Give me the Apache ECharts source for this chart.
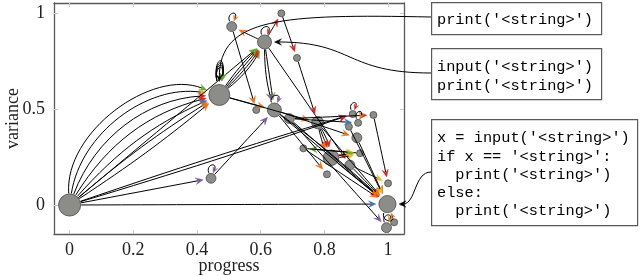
<!DOCTYPE html>
<html><head><meta charset="utf-8">
<script src="https://cdn.jsdelivr.net/npm/echarts@6/dist/echarts.min.js"></script>
<style>html,body{margin:0;padding:0;background:#fff}#c{width:640px;height:276px}</style>
</head><body><div id="c"></div>
<script>
// ---------------- data ----------------
const xTicks = [0, 0.2, 0.4, 0.6, 0.8, 1];
const yTicks = [0, 0.5, 1];
const xName = 'progress';
const yName = 'variance';

const nodeX = [0, 0.47, 0.612, 0.509, 0.665, 0.714, 0.643, 0.586, 0.69, 0.779, 0.889, 0.954, 0.877, 0.906, 0.902, 0.734, 0.821, 0.912, 0.88, 0.808, 1.0, 0.998, 0.995, 1.019, 0.444];
const nodeY = [0, 0.573, 0.849, 0.929, 0.998, 0.766, 0.495, 0.495, 0.45, 0.429, 0.474, 0.469, 0.408, 0.428, 0.35, 0.295, 0.246, 0.27, 0.208, 0.16, 0.113, 0.005, -0.118, -0.09, 0.139];
const nodeCount = [10, 9, 4, 2, 1, 1, 4, 1, 2, 3, 1, 1, 1, 1, 2, 1, 5, 1, 2, 1, 1, 6, 2, 1, 2];

const edgeFrom = [0,0,0,0,0,0,0, 0,0,0,0,0, 24, 1,1,1,1, 1,1, 2,2,4,2,2,2, 3,5, 9,9,9, 8,6,8, 17,15,16,16, 6,6,6,8,9,16,18,15, 8,11,18,14,12];
const edgeTo   = [1,1,1,1,1,1,1, 2,24,10,10,21, 6, 2,2,2,2, 6,9, 3,4,5,6,6,18, 7,9, 16,16,16, 13,14,11, 15,17,17,17, 19,21,21,21,21,21,21,21, 22,20,20,21,21];
const edgeKind = ['green','yellow','red','red','blue','orange','orange',
  'green','purple','red','red','blue','purple',
  'green','red','red','green','orange','orange',
  'orange','red','red','green','purple','red',
  'orange','red','red','red','orange','blue','orange','red',
  'green','yellow','green','yellow',
  'orange','red','orange','red','orange','red','orange','orange',
  'purple','red','yellow','red','yellow'];
const edgeBend = [58,45,33,22,12,4,-3,
  0,0,1,-1,0,0,
  -12,-6,0,6,0,0,
  0,0,0,0,-8,0,
  0,0,10,0,-10,0,0,0,
  0,0,6,-6,
  0,0,3,0,0,0,0,0,
  0,0,0,0,0];

const loopNode = [1,1,1,1, 24, 3, 2, 21, 22, 10, 13, 6];
const loopKind = ['green','green','green','green','purple','orange','red','brown','brown','red','brown','purple'];
const loopSide = ['above','above','above','above','above','above','above','below','above','above','above','above'];

const annTarget = [1, 2, 21];
const annCode = [
  [[['print','kw'],['(','p'],["'<string>'",'s'],[')','p']]],
  [[['input','kw'],['(','p'],["'<string>'",'s'],[')','p']],
   [['print','kw'],['(','p'],["'<string>'",'s'],[')','p']]],
  [[['x = ','p'],['input','kw'],['(','p'],["'<string>'",'s'],[')','p']],
   [['if','kw'],[' x == ','p'],["'<string>'",'s'],[':','p']],
   [['  ','p'],['print','kw'],['(','p'],["'<string>'",'s'],[')','p']],
   [['else','kw'],[':','p']],
   [['  ','p'],['print','kw'],['(','p'],["'<string>'",'s'],[')','p']]]
];

// ---------------- style / layout ----------------
const COLORS = {green:'#64a82e', yellow:'#e8b923', red:'#d8261f', blue:'#3b72b9', orange:'#e8741d', purple:'#7d569f', brown:'#c48a2e'};
const SERIF = 'Liberation Serif';
const MONO = 'Liberation Mono';
const loopLen = [15,18,21,24, 9,9,9,9,8,8,8,8];
const BOXES = [
  {x:431, y:2, w:170, h:32, line0:19.5, lh:19},
  {x:431, y:48, w:170, h:51, line0:67, lh:19},
  {x:431, y:119, w:206, h:106, line0:138.3, lh:18.2}
];
const ANN_PATH = [
  {start:[431,17], c1:[282,14], inDir:[0,-1], c2len:64},
  {start:[431,73], c1:[345,73], inDir:[1,0], c2len:80},
  {start:[431,172], c1:[414,172], inDir:[1,0], c2len:17}
];

function radius(c){ return 3.5*Math.sqrt(c); }
function norm(v){ const l=Math.hypot(v[0],v[1])||1; return [v[0]/l, v[1]/l]; }
function arrow(tip, u, color, len, w){
  len = len||7.5; w = w||3.3;
  const px=-u[1], py=u[0];
  const bx=tip[0]-u[0]*len, by=tip[1]-u[1]*len;
  const nx=tip[0]-u[0]*len*0.62, ny=tip[1]-u[1]*len*0.62;
  return {type:'polygon', shape:{points:[[tip[0],tip[1]],[bx+px*w,by+py*w],[nx,ny],[bx-px*w,by-py*w]]},
    style:{fill:color, stroke:color, lineWidth:0.4, lineJoin:'round'}};
}

function renderEdge(params, api){
  const i = api.value(4);
  const a = edgeFrom[i], b = edgeTo[i];
  const p0 = api.coord([api.value(0), api.value(1)]);
  const p1 = api.coord([api.value(2), api.value(3)]);
  const r0 = radius(nodeCount[a]), r1 = radius(nodeCount[b]);
  const L = Math.hypot(p1[0]-p0[0], p1[1]-p0[1]);
  const u = norm([p1[0]-p0[0], p1[1]-p0[1]]);
  const n = [u[1], -u[0]];
  const th = edgeBend[i]*Math.PI/180;
  const d = 0.3915*L;
  const ds = [u[0]*Math.cos(th)+n[0]*Math.sin(th), u[1]*Math.cos(th)+n[1]*Math.sin(th)];
  const de = [u[0]*Math.cos(th)-n[0]*Math.sin(th), u[1]*Math.cos(th)-n[1]*Math.sin(th)];
  const c1 = [p0[0]+ds[0]*d, p0[1]+ds[1]*d];
  const c2 = [p1[0]-de[0]*d, p1[1]-de[1]*d];
  const s = [p0[0]+ds[0]*(r0+0.5), p0[1]+ds[1]*(r0+0.5)];
  const tip = [p1[0]-de[0]*(r1+3), p1[1]-de[1]*(r1+3)];
  const e = [tip[0]-de[0]*5, tip[1]-de[1]*5];
  return {type:'group', children:[
    {type:'bezierCurve', shape:{x1:s[0],y1:s[1],x2:e[0],y2:e[1],cpx1:c1[0],cpy1:c1[1],cpx2:c2[0],cpy2:c2[1]},
      style:{stroke:'#000', lineWidth:1, fill:null}},
    arrow(tip, de, COLORS[edgeKind[i]])
  ]};
}

function renderLoop(params, api){
  const i = api.value(2);
  const nd = loopNode[i];
  const p = api.coord([api.value(0), api.value(1)]);
  const r = radius(nodeCount[nd]);
  const sg = loopSide[i]==='below' ? -1 : 1;
  const Lp = loopLen[i];
  const big = Lp > 12;
  const aO = (big?100:112)*Math.PI/180, aI = (big?80:68)*Math.PI/180;
  const dO = [Math.cos(aO), -sg*Math.sin(aO)], dI = [Math.cos(aI), -sg*Math.sin(aI)];
  const off = big ? 4 : 1;
  const s = [p[0]+dO[0]*(r+off), p[1]+dO[1]*(r+off)];
  const tip = [p[0]+dI[0]*(r+off), p[1]+dI[1]*(r+off)];
  const al = big ? 7 : 5.5;
  const e = [tip[0]+dI[0]*al*0.6, tip[1]+dI[1]*al*0.6];
  const c1 = [s[0]+dO[0]*Lp, s[1]+dO[1]*Lp];
  const c2 = [e[0]+dI[0]*Lp, e[1]+dI[1]*Lp];
  return {type:'group', children:[
    {type:'bezierCurve', shape:{x1:s[0],y1:s[1],x2:e[0],y2:e[1],cpx1:c1[0],cpy1:c1[1],cpx2:c2[0],cpy2:c2[1]},
      style:{stroke:'#000', lineWidth:1, fill:null}},
    arrow(tip, [-dI[0],-dI[1]], COLORS[loopKind[i]], al, al*0.44)
  ]};
}

function renderAnn(params, api){
  const j = api.value(2);
  const t = annTarget[j];
  const p = api.coord([api.value(0), api.value(1)]);
  const r = radius(nodeCount[t]);
  const P = ANN_PATH[j];
  const tip = [p[0]+P.inDir[0]*(r+3), p[1]+P.inDir[1]*(r+3)];
  const e = [tip[0]+P.inDir[0]*4, tip[1]+P.inDir[1]*4];
  const c2 = [tip[0]+P.inDir[0]*P.c2len, tip[1]+P.inDir[1]*P.c2len];
  return {type:'group', children:[
    {type:'bezierCurve', shape:{x1:P.start[0],y1:P.start[1],x2:e[0],y2:e[1],cpx1:P.c1[0],cpy1:P.c1[1],cpx2:c2[0],cpy2:c2[1]},
      style:{stroke:'#000', lineWidth:1, fill:null}},
    arrow(tip, [-P.inDir[0],-P.inDir[1]], '#000', 7, 3.2)
  ]};
}

// ---------------- graphics for code boxes ----------------
const rich = {
  kw:{color:'#d66c22', fontFamily:MONO, fontSize:15.3},
  p:{color:'#222', fontFamily:MONO, fontSize:15.3},
  s:{color:'#3d67a6', fontFamily:MONO, fontSize:15.3}
};
const graphics = [];
BOXES.forEach((b, k) => {
  graphics.push({type:'rect', left:b.x, top:b.y, shape:{width:b.w, height:b.h},
    style:{fill:'#fff', stroke:'#5a5a5a', lineWidth:1.2}, z:10});
  annCode[k].forEach((line, li) => {
    const txt = line.map(([t,c]) => '{'+c+'|'+t+'}').join('');
    graphics.push({type:'text', x:b.x+6, y:b.line0+li*b.lh, z:11,
      style:{text:txt, rich:rich, verticalAlign:'middle', align:'left'}});
  });
});

// ---------------- chart ----------------
const chart = echarts.init(document.getElementById('c'), null, {renderer:'canvas'});
const XMIN=-0.049, XMAX=1.05, YMIN=-0.151, YMAX=1.052;
const axisLineStyle = {show:true, onZero:false, lineStyle:{color:'#5a5a5a', width:1.3}};
function tick(vals){ return {show:true, inside:true, length:4, customValues:vals, lineStyle:{color:'#c8c8c8', width:1}}; }
const labelStyle = {color:'#222', fontFamily:SERIF, fontSize:18};
chart.setOption({
  animation:false,
  backgroundColor:'#fff',
  grid:{left:54, right:236, top:3, bottom:42, containLabel:false, outerBoundsMode:'none'},
  xAxis:[
    {type:'value', position:'bottom', min:XMIN, max:XMAX,
      name:xName, nameLocation:'middle', nameGap:23, nameMoveOverlap:false, nameTextStyle:labelStyle,
      axisLine:axisLineStyle, splitLine:{show:false}, axisTick:tick(xTicks),
      axisLabel:Object.assign({margin:7, customValues:xTicks, formatter:v=>String(+v.toFixed(1))}, labelStyle)},
    {type:'value', position:'top', min:XMIN, max:XMAX, axisLabel:{show:false},
      axisLine:axisLineStyle, splitLine:{show:false}, axisTick:tick(xTicks)}
  ],
  yAxis:[
    {type:'value', position:'left', min:YMIN, max:YMAX,
      name:yName, nameLocation:'middle', nameGap:32, nameMoveOverlap:false, nameRotate:90, nameTextStyle:labelStyle,
      axisLine:axisLineStyle, splitLine:{show:false}, axisTick:tick(yTicks),
      axisLabel:Object.assign({margin:9, customValues:yTicks, formatter:v=>String(+v.toFixed(1))}, labelStyle)},
    {type:'value', position:'right', min:YMIN, max:YMAX, axisLabel:{show:false},
      axisLine:axisLineStyle, splitLine:{show:false}, axisTick:tick(yTicks)}
  ],
  graphic:graphics,
  series:[
    {type:'scatter', z:2, data:nodeX.map((x,i)=>[x, nodeY[i], nodeCount[i]]),
      symbolSize:v=>2*radius(v[2]),
      itemStyle:{color:'#8c8c88', borderColor:'#4a4a4a', borderWidth:0.8, opacity:1},
      emphasis:{disabled:true}},
    {type:'custom', z:3, coordinateSystem:'cartesian2d', renderItem:renderEdge,
      encode:{x:[0,2], y:[1,3]},
      data:edgeFrom.map((a,i)=>[nodeX[a], nodeY[a], nodeX[edgeTo[i]], nodeY[edgeTo[i]], i])},
    {type:'custom', z:3, coordinateSystem:'cartesian2d', renderItem:renderLoop,
      encode:{x:0, y:1},
      data:loopNode.map((n,i)=>[nodeX[n], nodeY[n], i])},
    {type:'custom', z:4, coordinateSystem:'cartesian2d', renderItem:renderAnn, clip:false,
      encode:{x:0, y:1},
      data:annTarget.map((t,j)=>[nodeX[t], nodeY[t], j])}
  ]
});
</script></body></html>
